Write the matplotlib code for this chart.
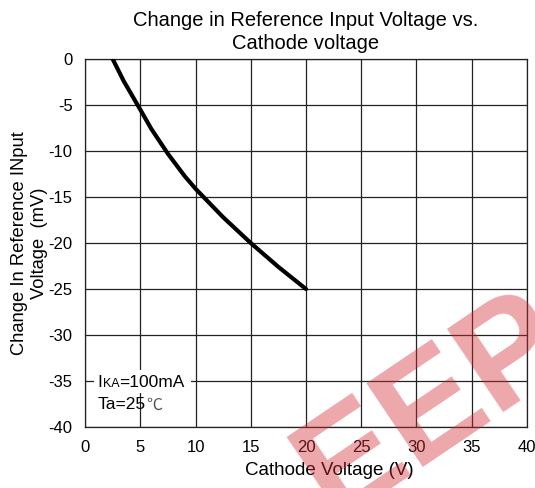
import matplotlib.pyplot as plt
from matplotlib.patches import Rectangle

plt.rcParams['font.family'] = ['Liberation Sans', 'Noto Sans CJK SC', 'DejaVu Sans']
plt.rcParams['axes.unicode_minus'] = False

# curve
cathode_v = [2.5, 3.5, 5, 6, 7.5, 9, 10, 12.5, 15, 17.5, 20]
delta_vref = [0, -2.4, -5.5, -7.6, -10.3, -12.7, -14.1, -17.2, -20.0, -22.6, -25.0]

x_ticks = [0, 5, 10, 15, 20, 25, 30, 35, 40]
y_ticks = [0, -5, -10, -15, -20, -25, -30, -35, -40]

fig = plt.figure(figsize=(5.35, 4.88), dpi=100)
ax = fig.add_axes([0.159, 0.125, 0.826, 0.754])

ax.plot(cathode_v, delta_vref, color='black', linewidth=3, solid_capstyle='round', zorder=3)

ax.set_xlim(0, 40)
ax.set_ylim(-40, 0)
ax.set_xticks(x_ticks)
ax.set_yticks(y_ticks)
ax.tick_params(length=0, labelsize=12, pad=9)
ax.grid(True, color='#222222', linewidth=0.9)
for s in ax.spines.values():
    s.set_color('#222222')
    s.set_linewidth(0.9)

ax.set_title('Change in Reference Input Voltage vs.\nCathode voltage', fontsize=14.5, pad=7, linespacing=1.3)
ax.set_xlabel('Cathode Voltage (V)', fontsize=13.5, labelpad=7)
ax.xaxis.set_label_coords(0.552, -0.096)
ax.set_ylabel('Change In Reference INput\nVoltage  (mV)', fontsize=13.2, labelpad=0, linespacing=1.25)

# condition note; white patch breaks the grid behind the first line
ax.add_patch(Rectangle((0.8, -36.3), 8.8, 2.5, facecolor='white', edgecolor='none', zorder=4))
t1 = ax.text(1.1, -35.6, 'I', fontsize=12.5, va='baseline', ha='left', zorder=5)
t2 = ax.annotate('KA', xy=(1, 0), xycoords=t1, xytext=(0.3, 0), textcoords='offset points',
                 fontsize=9, va='bottom', ha='left', zorder=5)
ax.annotate('=100mA', xy=(1, 0), xycoords=t2, xytext=(0, 0), textcoords='offset points',
            fontsize=12.5, va='bottom', ha='left', zorder=5)
t4 = ax.text(1.1, -38.0, 'Ta=25', fontsize=12.5, va='baseline', ha='left', zorder=5)
ax.annotate('℃', xy=(1, 0), xycoords=t4, xytext=(1, -1), textcoords='offset points',
            fontsize=11.5, va='bottom', ha='left', zorder=5, color='#555555')

# watermark
fig.text(0.81, 0.165, 'EEP', fontsize=105, fontweight='bold', color='#d42e36', alpha=0.42,
         rotation=34, ha='center', va='center', zorder=10)

fig.savefig('out.png', dpi=100)
